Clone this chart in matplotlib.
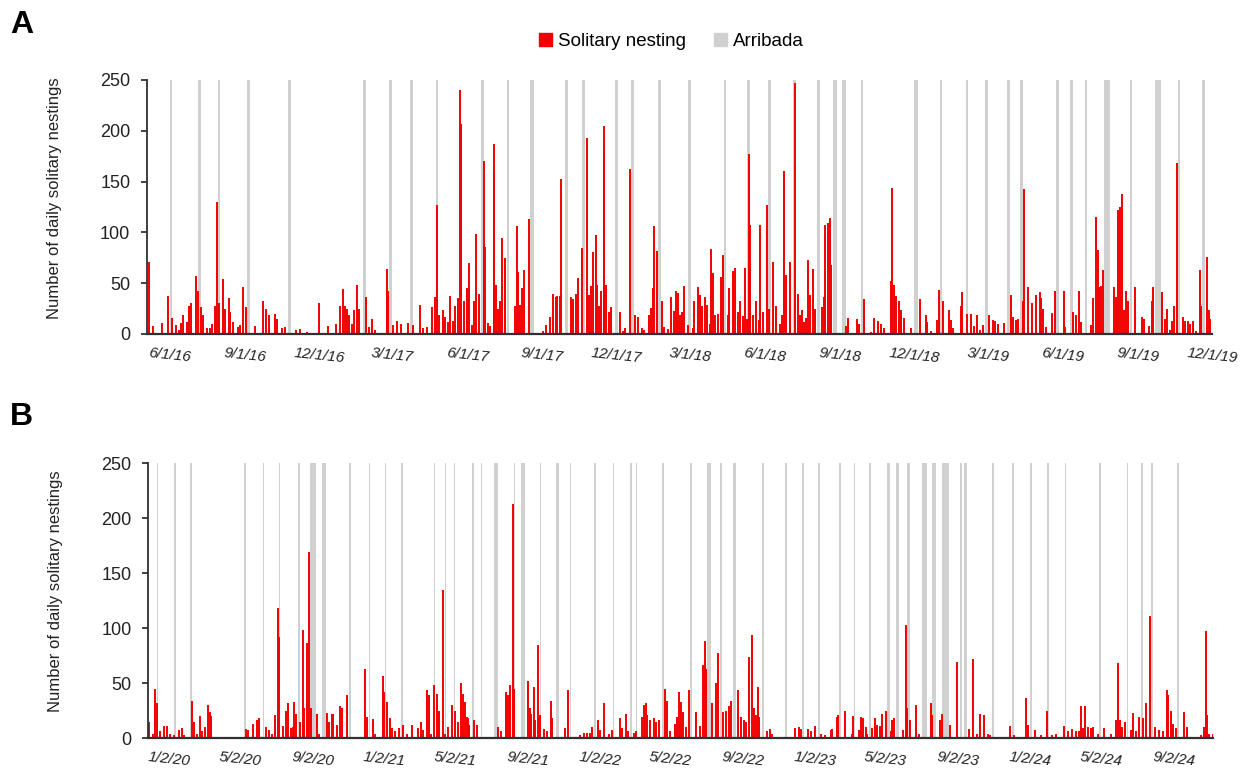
import numpy as np
import matplotlib
matplotlib.use('Agg')
from matplotlib import pyplot as plt
from matplotlib import patches as patches

plt.rcParams['font.family'] = ['Liberation Sans', 'DejaVu Sans']

RED = '#f20000'
GRAY = '#d0d0d0'

# panel A, x = days counted from a_start (left edge of the axis)
a_start = '2016-05-04'
a_span = 1305
a_ticks = ['6/1/16', '9/1/16', '12/1/16', '3/1/17', '6/1/17', '9/1/17', '12/1/17',
           '3/1/18', '6/1/18', '9/1/18', '12/1/18', '3/1/19', '6/1/19', '9/1/19', '12/1/19']
# (day, solitary nestings)
a_nest = [(2, 71), (7, 8), (18, 11), (26, 37), (31, 16), (35, 9), (39, 4), (42, 11), (44, 19),
          (49, 12), (52, 28), (54, 30), (60, 57), (62, 42), (66, 27), (69, 19), (73, 6), (77, 6),
          (80, 10), (83, 28), (86, 130), (88, 30), (93, 54), (96, 25), (100, 35), (102, 22),
          (106, 12), (112, 7), (114, 9), (118, 46), (121, 27), (132, 8), (142, 32), (146, 25),
          (149, 19), (157, 20), (159, 15), (165, 6), (169, 7), (183, 4), (187, 5), (196, 2),
          (211, 30), (222, 8), (232, 10), (237, 28), (240, 44), (243, 28), (245, 25), (248, 19),
          (251, 10), (254, 24), (258, 48), (260, 25), (268, 36), (272, 7), (276, 15), (279, 4),
          (294, 64), (296, 42), (302, 9), (307, 13), (311, 10), (320, 11), (326, 9), (335, 29),
          (339, 6), (343, 7), (350, 27), (353, 36), (356, 127), (358, 19), (363, 24), (365, 17),
          (369, 12), (372, 37), (375, 13), (378, 28), (381, 35), (384, 240), (385, 207), (389, 32),
          (392, 13), (393, 45), (395, 70), (398, 9), (401, 32), (404, 98), (407, 39), (413, 170),
          (414, 86), (418, 11), (421, 8), (425, 187), (426, 160), (428, 48), (430, 25), (433, 32),
          (435, 94), (439, 75), (451, 28), (454, 106), (455, 61), (457, 29), (460, 45), (462, 63),
          (468, 113), (486, 3), (489, 9), (494, 17), (498, 39), (501, 36), (503, 37), (506, 37),
          (508, 153), (520, 36), (523, 34), (526, 39), (529, 55), (533, 85), (540, 193), (542, 38),
          (545, 47), (547, 81), (550, 97), (552, 48), (554, 28), (557, 42), (560, 205), (561, 180),
          (563, 48), (566, 22), (569, 27), (580, 22), (584, 3), (586, 6), (592, 162), (599, 19),
          (602, 17), (607, 6), (610, 4), (616, 19), (618, 26), (620, 45), (622, 106), (625, 82),
          (631, 32), (634, 7), (639, 5), (643, 36), (646, 23), (649, 42), (651, 40), (653, 19),
          (656, 22), (659, 47), (663, 9), (669, 6), (671, 32), (676, 46), (678, 38), (681, 28),
          (684, 36), (687, 29), (690, 10), (692, 84), (694, 60), (697, 19), (700, 20), (704, 56),
          (706, 78), (712, 19), (714, 45), (719, 62), (721, 65), (725, 22), (727, 32), (731, 18),
          (733, 65), (736, 15), (738, 177), (740, 107), (743, 19), (747, 32), (750, 14), (752, 107),
          (755, 22), (760, 127), (763, 25), (768, 71), (771, 28), (776, 10), (779, 19), (781, 160),
          (784, 58), (788, 25), (789, 71), (795, 247), (798, 39), (801, 19), (803, 24), (806, 12),
          (808, 16), (811, 73), (813, 38), (817, 64), (819, 25), (828, 27), (830, 36), (832, 107),
          (835, 109), (837, 114), (839, 68), (857, 8), (860, 16), (871, 15), (873, 10), (879, 34),
          (888, 2), (892, 16), (896, 13), (900, 10), (904, 6), (912, 52), (914, 144), (916, 48),
          (918, 37), (922, 32), (925, 24), (928, 16), (937, 6), (948, 34), (955, 19), (956, 12),
          (962, 3), (969, 14), (971, 43), (976, 32), (983, 24), (986, 14), (989, 6), (998, 28),
          (1000, 41), (1006, 20), (1011, 20), (1014, 8), (1018, 19), (1021, 4), (1025, 9),
          (1033, 19), (1037, 14), (1040, 13), (1044, 10), (1051, 11), (1059, 38), (1062, 17),
          (1066, 14), (1068, 15), (1074, 32), (1076, 143), (1080, 46), (1085, 30), (1090, 38),
          (1095, 41), (1096, 35), (1099, 25), (1103, 7), (1110, 21), (1113, 42), (1124, 42),
          (1126, 7), (1136, 22), (1139, 19), (1143, 42), (1145, 12), (1158, 9), (1160, 35),
          (1164, 115), (1166, 83), (1168, 46), (1170, 47), (1172, 63), (1186, 46), (1188, 36),
          (1191, 122), (1193, 125), (1196, 138), (1198, 24), (1201, 42), (1203, 32), (1212, 46),
          (1220, 17), (1223, 15), (1229, 8), (1232, 32), (1234, 46), (1245, 41), (1248, 15),
          (1251, 25), (1254, 4), (1257, 13), (1260, 28), (1263, 168), (1270, 17), (1273, 13),
          (1276, 13), (1279, 10), (1283, 13), (1286, 3), (1291, 63), (1293, 28), (1300, 76),
          (1302, 24), (1304, 15)]
# (first day, length in days)
a_arribada = [(28, 3), (63, 3), (87, 3), (123, 3), (173, 3), (265, 3), (297, 3), (323, 3),
              (354, 3), (410, 3), (441, 3), (470, 4), (512, 4), (534, 3), (574, 3), (594, 3),
              (627, 3), (664, 3), (707, 3), (736, 3), (762, 3), (792, 4), (822, 3), (841, 5),
              (852, 5), (875, 3), (941, 5), (972, 3), (1004, 3), (1028, 3), (1055, 3), (1071, 3),
              (1115, 3), (1132, 3), (1150, 3), (1173, 8), (1205, 3), (1236, 8), (1264, 3), (1294, 3)]

# panel B, x = days counted from b_start
b_start = '2019-11-28'
b_span = 1807
b_ticks = ['1/2/20', '5/2/20', '9/2/20', '1/2/21', '5/2/21', '9/2/21', '1/2/22', '5/2/22',
           '9/2/22', '1/2/23', '5/2/23', '9/2/23', '1/2/24', '5/2/24', '9/2/24']
b_nest = [(1, 15), (2, 3), (8, 4), (12, 45), (14, 32), (20, 6), (26, 11), (31, 11), (37, 4),
          (43, 3), (52, 7), (57, 9), (61, 3), (74, 34), (77, 15), (82, 4), (88, 20), (91, 6),
          (97, 10), (101, 30), (104, 24), (107, 20), (166, 8), (170, 7), (178, 13), (185, 16),
          (188, 18), (199, 10), (204, 7), (210, 4), (215, 21), (220, 118), (221, 92), (229, 11),
          (234, 25), (237, 32), (242, 9), (246, 10), (248, 33), (251, 22), (258, 15), (262, 98),
          (265, 27), (269, 86), (272, 169), (276, 27), (286, 22), (290, 4), (303, 23), (306, 15),
          (311, 22), (314, 22), (320, 12), (325, 29), (328, 27), (338, 39), (368, 63), (371, 19),
          (381, 17), (384, 4), (398, 56), (400, 42), (405, 33), (410, 18), (414, 9), (419, 6),
          (425, 9), (433, 12), (439, 4), (448, 12), (458, 9), (462, 15), (466, 7), (473, 44),
          (476, 39), (480, 4), (484, 48), (490, 40), (494, 25), (500, 135), (503, 4), (508, 10),
          (516, 30), (521, 25), (526, 15), (530, 50), (534, 40), (537, 33), (540, 19), (543, 18),
          (545, 12), (552, 16), (557, 12), (572, 1), (594, 10), (598, 6), (607, 42), (611, 39),
          (613, 48), (619, 213), (621, 45), (644, 52), (647, 27), (650, 22), (654, 46), (657, 16),
          (661, 85), (664, 21), (671, 8), (677, 6), (684, 34), (685, 18), (707, 9), (713, 44),
          (732, 3), (739, 5), (745, 5), (749, 5), (753, 10), (763, 16), (766, 7), (774, 32),
          (781, 4), (786, 7), (801, 18), (804, 9), (811, 22), (814, 6), (824, 5), (827, 6),
          (837, 19), (841, 30), (844, 32), (847, 21), (851, 16), (858, 18), (862, 15), (866, 16),
          (876, 45), (880, 34), (886, 6), (893, 13), (897, 19), (901, 42), (904, 33), (908, 24),
          (912, 10), (917, 44), (929, 24), (937, 11), (941, 66), (944, 88), (947, 63), (957, 32),
          (963, 50), (966, 77), (976, 24), (980, 25), (985, 29), (988, 34), (1001, 44), (1006, 19),
          (1010, 16), (1015, 15), (1020, 74), (1025, 94), (1028, 27), (1032, 21), (1035, 46),
          (1037, 19), (1049, 6), (1055, 8), (1059, 4), (1098, 9), (1104, 10), (1107, 8),
          (1120, 8), (1124, 6), (1132, 11), (1141, 4), (1149, 3), (1158, 7), (1160, 8), (1169, 19),
          (1171, 21), (1183, 25), (1194, 4), (1196, 20), (1206, 7), (1210, 19), (1213, 18),
          (1217, 10), (1220, 4), (1228, 9), (1233, 18), (1237, 12), (1242, 11), (1245, 22),
          (1251, 25), (1260, 6), (1262, 16), (1266, 18), (1281, 7), (1286, 103), (1288, 27),
          (1292, 16), (1303, 30), (1308, 4), (1328, 32), (1330, 21), (1343, 16), (1347, 22),
          (1361, 12), (1372, 69), (1392, 8), (1399, 72), (1407, 4), (1412, 22), (1418, 21),
          (1424, 4), (1428, 3), (1463, 11), (1469, 3), (1478, 1), (1489, 36), (1492, 12),
          (1504, 7), (1514, 3), (1525, 25), (1533, 3), (1541, 4), (1553, 11), (1560, 6), (1568, 8),
          (1574, 6), (1579, 6), (1583, 29), (1586, 9), (1590, 29), (1595, 10), (1599, 9),
          (1603, 10), (1611, 4), (1622, 9), (1633, 4), (1642, 16), (1646, 68), (1649, 16),
          (1653, 10), (1658, 15), (1667, 7), (1671, 23), (1676, 6), (1681, 19), (1687, 18),
          (1693, 32), (1700, 111), (1709, 10), (1715, 7), (1721, 6), (1728, 44), (1731, 39),
          (1736, 25), (1739, 13), (1744, 9), (1758, 24), (1762, 10), (1786, 3), (1792, 10),
          (1795, 97), (1797, 21), (1800, 4), (1806, 4)]
b_arribada = [(14, 3), (44, 3), (71, 3), (163, 3), (194, 3), (221, 3), (254, 3), (274, 11),
              (295, 7), (341, 3), (374, 3), (401, 3), (429, 3), (484, 3), (503, 3), (518, 3),
              (549, 3), (564, 3), (587, 6), (620, 3), (632, 8), (664, 3), (691, 6), (715, 3),
              (757, 3), (788, 3), (817, 3), (827, 3), (872, 3), (920, 3), (948, 6), (970, 3),
              (992, 5), (1042, 3), (1080, 3), (1110, 3), (1136, 3), (1172, 3), (1197, 3),
              (1223, 3), (1254, 5), (1269, 5), (1288, 5), (1313, 9), (1330, 6), (1347, 12),
              (1378, 3), (1384, 6), (1432, 3), (1466, 3), (1496, 3), (1525, 3), (1555, 3),
              (1613, 3), (1660, 3), (1684, 3), (1701, 3), (1746, 3)]

y_ticks = [0, 50, 100, 150, 200, 250]
y_label = 'Number of daily solitary nestings'


def tick_days(start, labels):
    '''day offsets of m/d/yy labels'''
    out = []
    for lab in labels:
        m, d, y = lab.split('/')
        day = np.datetime64('20%s-%02d-%02d' % (y, int(m), int(d)))
        out.append(int((day - np.datetime64(start)).astype(int)))
    return out


def draw_panel(ax, start, span, labels, nest, arribada):
    '''one panel: arribada bands behind, solitary nestings on top'''
    first = [a for a, n in arribada]
    length = [n for a, n in arribada]
    ax.bar(first, 250, width=length, align='edge', color=GRAY, linewidth=0, zorder=1)

    days = [d for d, v in nest]
    vals = [v for d, v in nest]
    ax.vlines(days, 0, vals, color=RED, lw=1.4, zorder=2)

    ax.set_xlim(0, span)
    ax.set_ylim(0, 250)
    ax.set_yticks(y_ticks)
    ax.set_xticks(tick_days(start, labels))
    ax.set_xticklabels(labels, fontstyle='italic', rotation=-6, fontsize=11,
                       color='#222222')
    ax.tick_params(axis='x', length=0, pad=9)
    ax.tick_params(axis='y', length=4, width=1.2, direction='out', pad=8,
                   labelsize=13, colors='#222222')
    for side in ['top', 'right']:
        ax.spines[side].set_visible(False)
    ax.spines['bottom'].set_linewidth(1.6)
    ax.spines['bottom'].set_color('#303030')
    ax.spines['bottom'].set_zorder(3)
    ax.spines['left'].set_linewidth(1.3)
    ax.spines['left'].set_color('#303030')
    ax.set_ylabel(y_label, fontsize=12, color='#222222')
    ax.yaxis.set_label_coords(-0.08, 0.535)


fig = plt.figure(figsize=(12.46, 7.74), dpi=100)
ax1 = fig.add_axes([0.118, 0.5685, 0.8547, 0.3282])
ax2 = fig.add_axes([0.119, 0.0465, 0.8547, 0.3553])

draw_panel(ax1, a_start, a_span, a_ticks, a_nest, a_arribada)
draw_panel(ax2, b_start, b_span, b_ticks, b_nest, b_arribada)

fig.text(10 / 1246, 1 - 10 / 774, 'A', fontsize=23, fontweight='bold', va='top', ha='left')
fig.text(10 / 1246, 1 - 402 / 774, 'B', fontsize=23, fontweight='bold', va='top', ha='left')

handles = [patches.Patch(color=RED, label='Solitary nesting'),
           patches.Patch(color=GRAY, label='Arribada')]
fig.legend(handles=handles, loc='center', bbox_to_anchor=(0.539, 0.946), ncol=2,
           frameon=False, fontsize=13.5, handlelength=0.7, handleheight=0.7,
           handletextpad=0.3, columnspacing=1.5)

fig.savefig('out.png', dpi=100)
